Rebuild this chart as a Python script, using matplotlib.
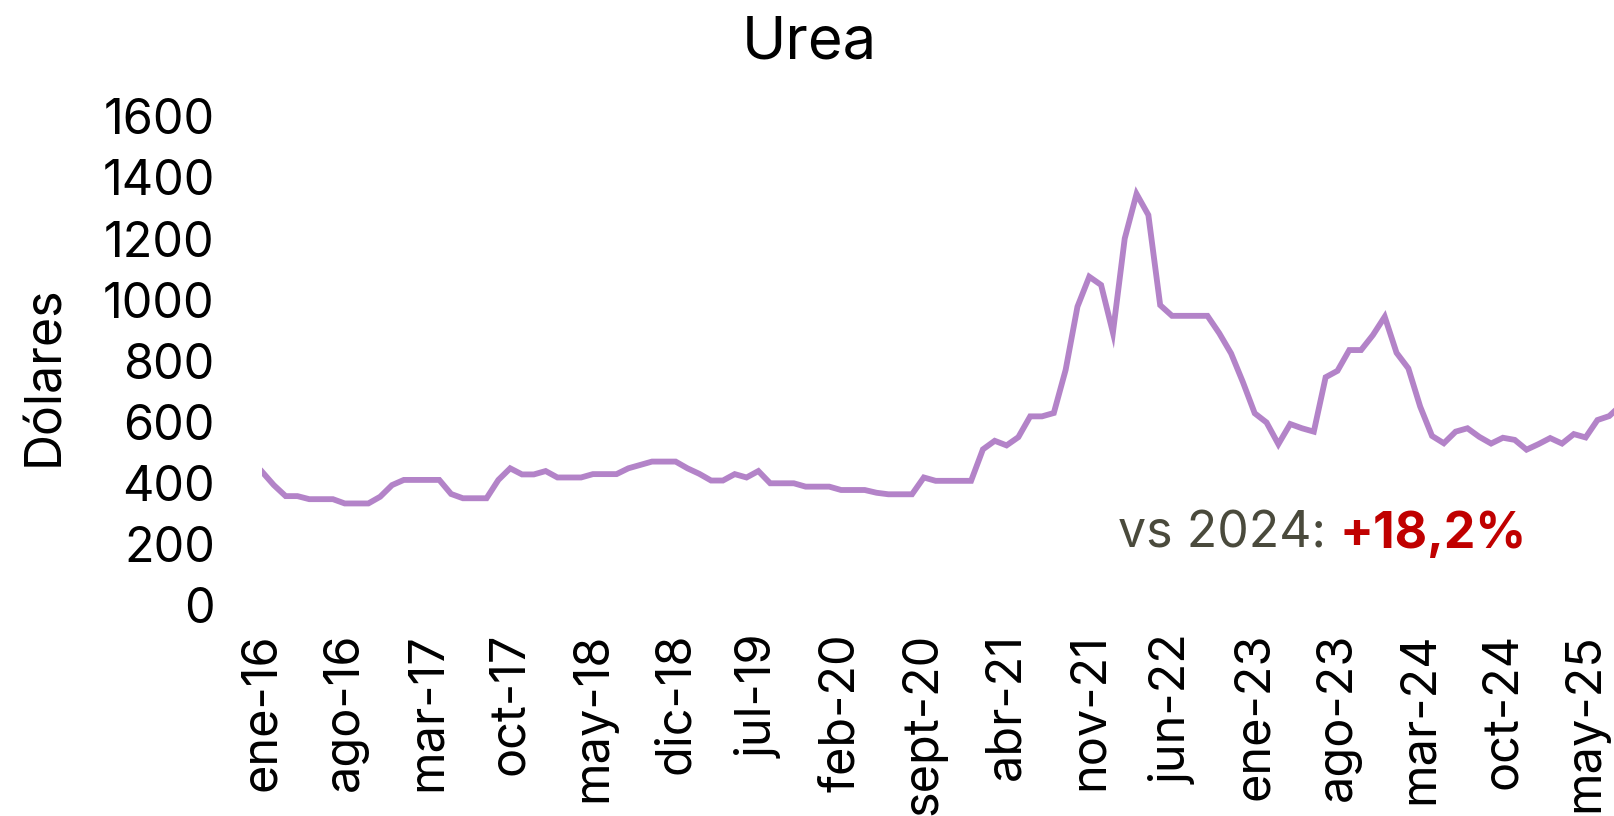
import matplotlib
matplotlib.use("Agg")
import matplotlib.pyplot as plt

MONTH_ABBR = ["ene", "feb", "mar", "abr", "may", "jun", "jul", "ago", "sept", "oct", "nov", "dic"]
START_YEAR = 16

urea_prices = [
    437, 393, 357, 357, 347, 347, 347, 333, 333, 333, 355, 393,
    410, 410, 410, 410, 364, 350, 350, 350, 410, 448, 428, 428,
    439, 418, 418, 418, 429, 429, 429, 448, 459, 470, 470, 470,
    448, 430, 408, 408, 429, 418, 439, 399, 399, 399, 388, 388,
    388, 377, 377, 377, 368, 363, 363, 363, 418, 407, 407, 407,
    407, 510, 538, 523, 550, 618, 618, 629, 770, 977, 1075, 1048,
    892, 1200, 1346, 1277, 982, 947, 947, 947, 947, 890, 824, 730,
    628, 598, 527, 593, 579, 568, 746, 767, 835, 835, 884, 944,
    826, 775, 650, 554, 530, 568, 579, 551, 529, 548, 541, 509,
    527, 547, 529, 560, 549, 606, 619, 655,
]
month_labels = [f"{MONTH_ABBR[k % 12]}-{START_YEAR + k // 12}" for k in range(len(urea_prices))]
tick_step = 7
y_ticks = [0, 200, 400, 600, 800, 1000, 1200, 1400, 1600]
title_text = "Urea"
y_label = "Dólares"
note_prefix = "vs 2024: "
note_value = "+18,2%"

FONT = "Inter"
plt.rcParams["font.family"] = [FONT, "DejaVu Sans"]

W, H = 1614, 816
fig = plt.figure(figsize=(W / 100, H / 100), dpi=100)
left_px, right_px, top_px, bottom_px = 262, 1614, 116.3, 605.2
ax = fig.add_axes([left_px / W, 1 - bottom_px / H, (right_px - left_px) / W, (bottom_px - top_px) / H])

x = list(range(len(urea_prices)))
ax.plot(x, urea_prices, color="#b383c8", lw=4.2, solid_joinstyle="miter", clip_on=True)

ax.set_xlim(0, 114.4)
ax.set_ylim(0, 1600)
ax.set_yticks(y_ticks)
ax.set_yticklabels([str(v) for v in y_ticks])
tick_pos = x[::tick_step]
ax.set_xticks(tick_pos)
ax.set_xticklabels([month_labels[i] for i in tick_pos], rotation=90)

for s in ax.spines.values():
    s.set_visible(False)
ax.tick_params(axis="both", length=0, labelsize=35, colors="black")
ax.tick_params(axis="y", pad=34)
ax.tick_params(axis="x", pad=20)
for lab in ax.get_xticklabels():
    lab.set_va("top")
    lab.set_ha("center")

ax.set_ylabel(y_label, fontsize=36, color="black")
ax.yaxis.set_label_coords(-0.1435, 0.47)

fig.text(809 / W, 1 - 43 / H, title_text, ha="center", va="center", fontsize=43, color="black")

# annotation with two colours
fig.canvas.draw()
renderer = fig.canvas.get_renderer()
t2 = fig.text(1527 / W, 1 - 534 / H, note_value, ha="right", va="center", fontsize=36,
              fontweight="bold", color="#c00000")
fig.canvas.draw()
bb = t2.get_window_extent(renderer)
fig.text(bb.x0 / W, 1 - 534 / H, note_prefix, ha="right", va="center", fontsize=36, color="#4a4a3c")

fig.savefig("out.png", dpi=100)
